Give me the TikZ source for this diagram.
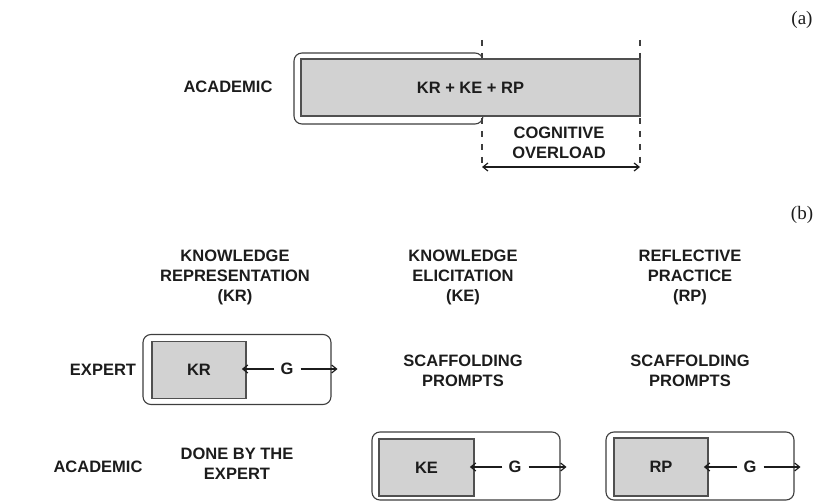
\documentclass[tikz,border=0pt]{standalone}
\usepackage{fontspec}
\setmainfont{Liberation Sans}
\newfontfamily\panelfont{Liberation Serif}
\usetikzlibrary{arrows.meta}
\definecolor{boxgray}{HTML}{D2D2D2}
\definecolor{edgegray}{HTML}{505050}
\definecolor{ink}{HTML}{1C1C1C}
\begin{document}
\begin{tikzpicture}[x=1pt,y=-1pt,
  lbl/.style={font=\fontsize{16.5}{20}\selectfont\bfseries, text=ink, align=center, inner sep=0pt},
  panel/.style={font=\panelfont\fontsize{19}{22}\selectfont, text=ink, inner sep=0pt},
  frame/.style={draw=ink!85, line width=1.1pt, rounded corners=8pt, inner sep=0pt},
  core/.style={draw=edgegray, line width=1.7pt, fill=boxgray, inner sep=0pt,
    font=\fontsize{16.5}{20}\selectfont\bfseries, text=ink},
  guide/.style={draw=ink!85, line width=1.2pt, dash pattern=on 6pt off 7pt},
  gap/.style={draw=ink, line width=1.2pt, shorten >=1pt, -{Straight Barb[length=5pt,width=8pt]}},
  span/.style={draw=ink, line width=1.2pt, {Straight Barb[length=5pt,width=8pt]}-{Straight Barb[length=5pt,width=8pt]}}
]
\useasboundingbox (0,0) rectangle (817,502);

% panel labels
\node[panel] (pa) at (802,20) {(a)};
\node[panel] (pb) at (802,215) {(b)};

% ---------- (a): everything done by the academic ----------
\node[lbl] (acadA) at (228,87) {ACADEMIC};

% capacity limits (drawn first so the load bar hides them)
\coordinate (d1a) at (482,40);
\coordinate (d1b) at (482,169);
\coordinate (d2a) at (640,40);
\coordinate (d2b) at (640,169);
\draw[guide] (d1a) -- (d1b);
\draw[guide] (d2a) -- (d2b);

\node[frame, minimum width=189pt, minimum height=71pt] (capacity) at (388.5,88.5) {};
\node[core, minimum width=339pt, minimum height=57pt] (load) at (470.5,87.5) {KR + KE + RP};

\coordinate (ovl) at (482,167);
\coordinate (ovr) at (640,167);
\draw[span] (ovl) -- (ovr);
\node[lbl] (overload) at (559,143) {COGNITIVE\\OVERLOAD};

% ---------- (b): work split between expert and academic ----------
\node[lbl] (hKR) at (235,277) {KNOWLEDGE\\REPRESENTATION\\(KR)};
\node[lbl] (hKE) at (463,277) {KNOWLEDGE\\ELICITATION\\(KE)};
\node[lbl] (hRP) at (690,277) {REFLECTIVE\\PRACTICE\\(RP)};

\node[lbl] (expert) at (103,370) {EXPERT};
\node[lbl] (acadB) at (98,467) {ACADEMIC};

\node[lbl] (scafKE) at (463,371) {SCAFFOLDING\\PROMPTS};
\node[lbl] (scafRP) at (690,371) {SCAFFOLDING\\PROMPTS};
\node[lbl] (done) at (237,464) {DONE BY THE\\EXPERT};

% KR box (expert)
\node[frame, minimum width=188pt, minimum height=70pt] (frKR) at (237,369.5) {};
\node[core, minimum width=94pt, minimum height=57pt] (cKR) at (199,370) {KR};
\node[lbl] (gKR) at (287,369) {G};
\draw[gap] ([xshift=-6pt]gKR.west) -- ([xshift=-6pt]gKR.west -| cKR.east);
\draw[gap] ([xshift=7pt]gKR.east) -- ([xshift=7pt]gKR.east -| frKR.east);

% KE box (academic)
\node[frame, minimum width=188pt, minimum height=68pt] (frKE) at (466,466) {};
\node[core, minimum width=95pt, minimum height=57pt] (cKE) at (426.5,467.5) {KE};
\node[lbl] (gKE) at (515,467) {G};
\draw[gap] ([xshift=-6pt]gKE.west) -- ([xshift=-6pt]gKE.west -| cKE.east);
\draw[gap] ([xshift=7pt]gKE.east) -- ([xshift=7pt]gKE.east -| frKE.east);

% RP box (academic)
\node[frame, minimum width=188pt, minimum height=68pt] (frRP) at (700,466) {};
\node[core, minimum width=94pt, minimum height=58pt] (cRP) at (661,467) {RP};
\node[lbl] (gRP) at (750,467) {G};
\draw[gap] ([xshift=-6pt]gRP.west) -- ([xshift=-6pt]gRP.west -| cRP.east);
\draw[gap] ([xshift=7pt]gRP.east) -- ([xshift=7pt]gRP.east -| frRP.east);
\end{tikzpicture}
\end{document}
